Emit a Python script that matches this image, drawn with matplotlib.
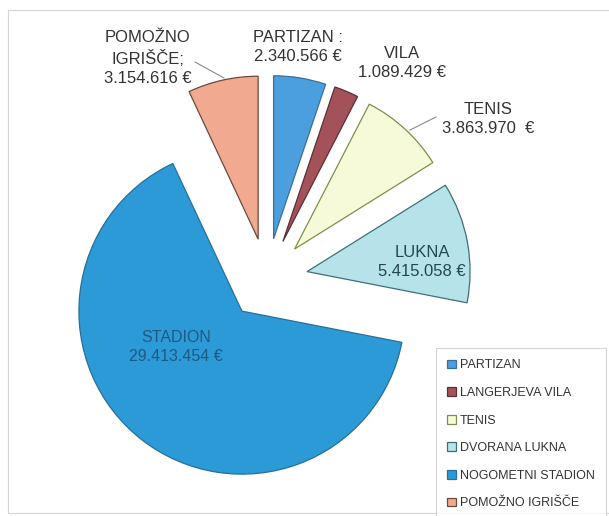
import matplotlib
matplotlib.use("Agg")
import matplotlib.pyplot as plt
from matplotlib.patches import Rectangle

plt.rcParams['font.family'] = ['Liberation Sans', 'DejaVu Sans']

# investment per venue, in euros
names = ['PARTIZAN', 'LANGERJEVA VILA', 'TENIS', 'DVORANA LUKNA',
         'NOGOMETNI STADION', 'POMOŽNO IGRIŠČE']
short = ['PARTIZAN :', 'VILA', 'TENIS', 'LUKNA', 'STADION', 'POMOŽNO\nIGRIŠČE;']
values = [2340566, 1089429, 3863970, 5415058, 29413454, 3154616]
colors = ['#4c9fdf', '#a4525a', '#f6fad8', '#b6e3ea', '#2b9ad7', '#f1aa90']
edges = ['#3b6f98', '#5a3034', '#7f8f4a', '#3f6f76', '#2a6f9a', '#6a4a40']

W, H = 609, 516
cx, cy, R = 267, 279, 163


def px(x, y):
    # pixel position -> data units of the pie (radius 1)
    return (x - cx) / R, (cy - y) / R


def euro(v):
    return f"{v:,}".replace(',', '.') + ' €'


fig = plt.figure(figsize=(W / 100, H / 100), dpi=100)
ax = fig.add_axes([0, 0, 1, 1])

wedges, _ = ax.pie(values, colors=colors, startangle=90, counterclock=False,
                   explode=[0.25] * len(values), radius=1,
                   wedgeprops=dict(linewidth=0.9))
for w, ec in zip(wedges, edges):
    w.set_edgecolor(ec)

# pie() resets the limits, so fix them afterwards
ax.set_aspect('auto')
ax.set_xlim(-cx / R, (W - cx) / R)
ax.set_ylim(-(H - cy) / R, cy / R)
ax.axis('off')

# outer frame of the chart area
fig.patches.append(Rectangle((8 / W, 1 - 513 / H), 1, (513 - 10) / H,
                             transform=fig.transFigure, fill=False,
                             edgecolor='#d4d4d4', linewidth=0.8))

# slice labels
lab = dict(ha='center', va='center', fontsize=12, color='#333333',
           linespacing=1.35)
ax.text(*px(148, 58), short[5] + '\n' + euro(values[5]), **lab)
ax.text(*px(298, 47), short[0] + '\n' + euro(values[0]), **lab)
ax.text(*px(402, 63), short[1] + '\n' + euro(values[1]), **lab)
ax.text(*px(488, 119), short[2] + '\n' + euro(values[2]).replace(' €', '  €'), **lab)
ax.text(*px(422, 262), short[3] + '\n' + euro(values[3]),
        **{**lab, 'color': '#24474d'})
ax.text(*px(176, 347), short[4] + '\n' + euro(values[4]),
        **{**lab, 'color': '#1f5a86', 'fontsize': 11.5})

# leader lines
x0, y0 = px(195, 62)
x1, y1 = px(224, 78)
ax.plot([x0, x1], [y0, y1], color='#8a8a8a', lw=0.8)
x0, y0 = px(436, 117)
x1, y1 = px(410, 130)
ax.plot([x0, x1], [y0, y1], color='#8a8a8a', lw=0.8)

leg = fig.legend(wedges, names, loc='upper left',
                 bbox_to_anchor=(436 / W, 1 - 348 / H),
                 fontsize=9, frameon=True, fancybox=False,
                 borderaxespad=0, borderpad=0.9, labelspacing=1.25,
                 handlelength=0.7, handleheight=0.7, handletextpad=0.3)
leg.get_frame().set_edgecolor('#cccccc')
leg.get_frame().set_linewidth(0.8)
for t in leg.get_texts():
    t.set_color('#333333')

fig.savefig('out.png', dpi=100)
